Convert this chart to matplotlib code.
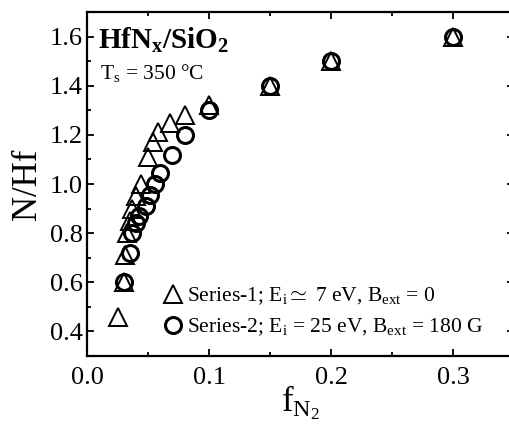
import numpy as np
import matplotlib
matplotlib.use("Agg")
import matplotlib.pyplot as plt
from matplotlib.ticker import MultipleLocator

# --- Data ---
s1_x = [0.025, 0.030, 0.031, 0.033, 0.035, 0.037, 0.040, 0.044, 0.050, 0.054,
        0.058, 0.068, 0.080, 0.100, 0.150, 0.200, 0.300]
s1_y = [0.46, 0.60, 0.71, 0.80, 0.85, 0.90, 0.95, 1.00, 1.11, 1.17,
        1.21, 1.25, 1.28, 1.32, 1.40, 1.50, 1.60]

s2_x = [0.030, 0.035, 0.037, 0.040, 0.043, 0.048, 0.052, 0.056, 0.060, 0.070,
        0.080, 0.100, 0.150, 0.200, 0.300]
s2_y = [0.60, 0.72, 0.80, 0.84, 0.87, 0.91, 0.955, 1.00, 1.045, 1.12,
        1.20, 1.30, 1.40, 1.50, 1.60]

s1_label = r"Series-1; E$_\mathrm{i}$$\simeq$ 7 eV, B$_\mathrm{ext}$ = 0"
s2_label = r"Series-2; E$_\mathrm{i}$ = 25 eV, B$_\mathrm{ext}$ = 180 G"

# --- Style ---
plt.rcParams['font.family'] = ['Liberation Serif', 'DejaVu Serif']
plt.rcParams['mathtext.fontset'] = 'custom'
plt.rcParams['mathtext.rm'] = 'Liberation Serif'
plt.rcParams['mathtext.it'] = 'Liberation Serif:italic'
plt.rcParams['mathtext.bf'] = 'Liberation Serif:bold'

fig = plt.figure(figsize=(5.09, 4.26), dpi=100)
ax = fig.add_axes([0.171, 0.1643, 0.8388, 0.8075])

ax.plot(s2_x, s2_y, linestyle='none', marker='o', markersize=11.5,
        markerfacecolor='none', markeredgecolor='black', markeredgewidth=2.2,
        label=s2_label)
ax.plot(s1_x, s1_y, linestyle='none', marker='^', markersize=13,
        markerfacecolor='none', markeredgecolor='black', markeredgewidth=1.4,
        label=s1_label)

ax.set_xlim(0, 0.35)
ax.set_ylim(0.3, 1.7)
ax.xaxis.set_major_locator(MultipleLocator(0.1))
ax.xaxis.set_minor_locator(MultipleLocator(0.05))
ax.yaxis.set_major_locator(MultipleLocator(0.2))
ax.yaxis.set_minor_locator(MultipleLocator(0.1))
ax.xaxis.set_major_formatter(matplotlib.ticker.FormatStrFormatter('%.1f'))
ax.yaxis.set_major_formatter(matplotlib.ticker.FormatStrFormatter('%.1f'))
ax.tick_params(which='both', direction='in', top=True, right=True,
               labelsize=19, width=1.3)
ax.tick_params(axis='x', pad=8)
ax.tick_params(axis='y', pad=3)
ax.tick_params(which='major', length=5)
ax.tick_params(which='minor', length=3)
for sp in ax.spines.values():
    sp.set_linewidth(1.6)

ax.set_xlabel(r"f$_{\mathrm{N}_2}$", fontsize=25, labelpad=-4)
ax.set_ylabel("N/Hf", fontsize=25, labelpad=4)

ax.text(0.025, 0.96, r"HfN$_\mathbf{x}$/SiO$_\mathbf{2}$", transform=ax.transAxes,
        fontsize=21, fontweight='bold', va='top', ha='left')
ax.text(0.03, 0.855, r"T$_\mathrm{s}$ = 350 °C", transform=ax.transAxes,
        fontsize=15.5, va='top', ha='left')

h, l = ax.get_legend_handles_labels()
ax.legend(h[::-1], l[::-1], loc='lower left', bbox_to_anchor=(0.13, -0.005),
          frameon=False, fontsize=15.5, handletextpad=0.15, labelspacing=0.45,
          handlelength=1.0)

fig.savefig("out.png", dpi=100)
